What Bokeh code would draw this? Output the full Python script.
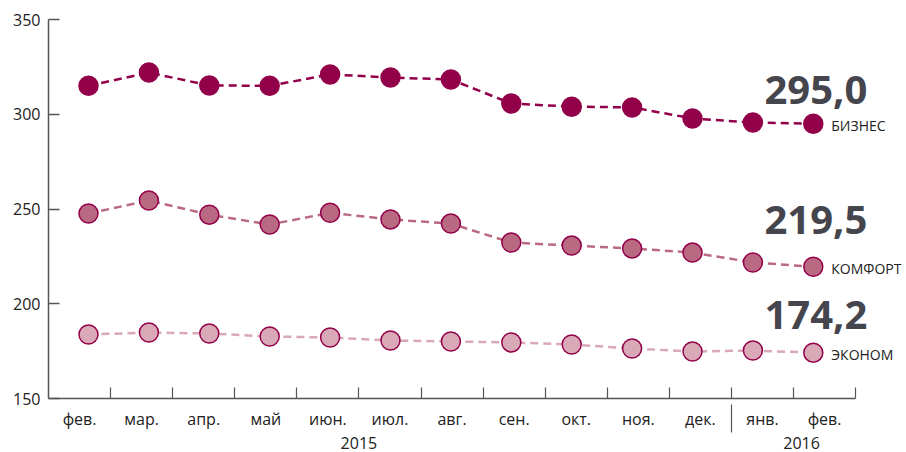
from bokeh.plotting import figure
from bokeh.models import (Range1d, LinearAxis, FixedTicker, ColumnDataSource,
                          LabelSet)
from bokeh.core.properties import value
from bokeh.embed import file_html
from bokeh.resources import INLINE

# ---- data ----
months = ["фев.", "мар.", "апр.", "май", "июн.", "июл.", "авг.", "сен.",
          "окт.", "ноя.", "дек.", "янв.", "фев."]
years = ["2015", "2016"]
year_first_month = [0, 11]
series_names = ["БИЗНЕС", "КОМФОРТ", "ЭКОНОМ"]
business = [315.0, 322.0, 315.2, 315.0, 321.0, 319.4, 318.3, 305.7, 304.0, 303.6, 297.8, 295.6, 295.0]
comfort = [247.6, 254.5, 247.0, 241.8, 248.0, 244.5, 242.3, 232.3, 230.7, 229.2, 227.0, 221.8, 219.5]
economy = [183.8, 184.8, 184.3, 182.7, 182.2, 180.6, 180.1, 179.6, 178.5, 176.4, 174.8, 175.3, 174.2]
y_ticks = [150, 200, 250, 300, 350]

# ---- styles ----
FONT = "Open Sans"
line_colors = ["#93004a", "#b96a82", "#d9a9b8"]
fill_colors = ["#93004a", "#b96a82", "#d9a9b8"]
edge_color = "#93004a"
value_color = "#45454d"
axis_color = "#555555"
value_label_dy = [20, 33, 24]
year_label_pos = [4.5, 11.63]

series = [business, comfort, economy]
xs = list(range(len(months)))
n = len(months)

p = figure(width=906, height=452, output_backend="svg", toolbar_location=None,
           x_range=Range1d(-0.662, 13.543), y_range=Range1d(150, 350),
           min_border_left=48, min_border_right=0, min_border_top=19,
           min_border_bottom=54, x_axis_location=None, y_axis_location=None)
p.outline_line_color = None
p.grid.visible = False
p.background_fill_color = "white"
p.border_fill_color = "white"
p.extra_x_ranges = {"bands": Range1d(-0.5, 13.32)}

# y axis
yax = LinearAxis(ticker=FixedTicker(ticks=y_ticks))
yax.axis_line_color = axis_color
yax.axis_line_width = 1.5
yax.major_tick_line_color = axis_color
yax.major_tick_line_width = 1.5
yax.major_tick_in = 11
yax.major_tick_out = 0
yax.minor_tick_line_color = None
yax.major_label_standoff = 8
yax.major_label_text_font = FONT
yax.major_label_text_font_size = "16px"
yax.major_label_text_color = "#222222"
p.add_layout(yax, "left")

# month axis
centers = list(range(n))
bounds = [i + 0.5 for i in range(n)]
xax = LinearAxis(x_range_name="bands", bounds=(-0.5, n - 0.5),
                 ticker=FixedTicker(ticks=centers, minor_ticks=bounds))
xax.major_label_overrides = {i: m for i, m in enumerate(months)}
xax.axis_line_color = axis_color
xax.axis_line_width = 1.5
xax.major_tick_line_color = None
xax.major_tick_in = 0
xax.major_tick_out = 0
xax.minor_tick_line_color = axis_color
xax.minor_tick_line_width = 1.2
xax.minor_tick_in = 11
xax.minor_tick_out = 0
xax.major_label_standoff = 9
xax.major_label_text_font = FONT
xax.major_label_text_font_size = "16px"
xax.major_label_text_color = "#222222"
p.add_layout(xax, "below")

# year separator (a single tick reaching up to the month axis)
sep_x = year_first_month[1] - 0.5
sax = LinearAxis(x_range_name="bands", ticker=FixedTicker(ticks=[sep_x]))
sax.major_label_overrides = {sep_x: ""}
sax.axis_line_color = None
sax.minor_tick_line_color = None
sax.major_tick_line_color = axis_color
sax.major_tick_line_width = 1.2
sax.major_tick_in = 28
sax.major_tick_out = 0
sax.major_label_standoff = 0
sax.major_label_text_font_size = "0px"
p.add_layout(sax, "below")

# year axis
yrax = LinearAxis(x_range_name="bands", ticker=FixedTicker(ticks=year_label_pos))
yrax.major_label_overrides = {pos: y for pos, y in zip(year_label_pos, years)}
yrax.axis_line_color = None
yrax.major_tick_line_color = None
yrax.minor_tick_line_color = None
yrax.major_label_standoff = -2
yrax.major_label_text_font = FONT
yrax.major_label_text_font_size = "16px"
yrax.major_label_text_color = "#222222"
p.add_layout(yrax, "below")

# series
for vals, lc in zip(series, line_colors):
    p.line(xs, vals, line_color=lc, line_width=2.5, line_dash="8 5")
for vals, fc in zip(series, fill_colors):
    p.scatter(xs, vals, size=19, fill_color=fc, line_color=edge_color,
              line_width=1.5)

last_x = xs[-1]
last_vals = [s[-1] for s in series]
lab_src = ColumnDataSource(dict(
    x=[last_x] * 3, y=last_vals, name=series_names,
    val=[f"{v:.1f}".replace(".", ",") for v in last_vals],
    dy=value_label_dy))

p.add_layout(LabelSet(source=lab_src, x="x", y="y", text="val",
                      x_offset=54, y_offset="dy", text_align="right",
                      text_baseline="alphabetic", text_font=value(FONT),
                      text_font_style="bold", text_font_size="40px",
                      text_color=value_color))
p.add_layout(LabelSet(source=lab_src, x="x", y="y", text="name",
                      x_offset=18, y_offset=-2, text_align="left",
                      text_baseline="middle", text_font=value(FONT),
                      text_font_size="14px", text_color="#222222"))

open("out.html", "w").write(file_html(p, INLINE))
